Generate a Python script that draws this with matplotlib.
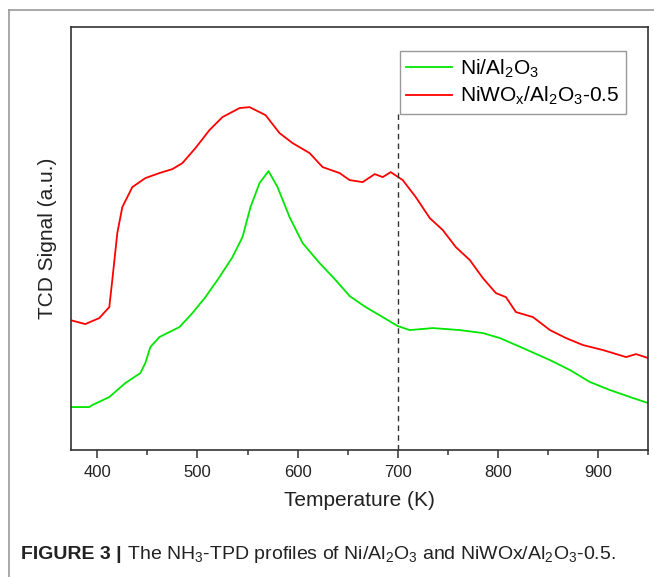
#!/usr/bin/env python3
"""NH3-TPD profiles of Ni/Al2O3 and NiWOx/Al2O3-0.5 (TCD signal vs temperature)."""
import matplotlib
matplotlib.use("Agg")
import matplotlib.pyplot as plt
from matplotlib.lines import Line2D
from matplotlib.ticker import MultipleLocator
from matplotlib import rcParams

rcParams["font.family"] = ["Liberation Sans", "DejaVu Sans"]
INK = "#222222"; SPINE = "#333333"; GREEN = "#00e600"; RED = "#ff0000"

# Ni/Al2O3 trace (temperature K, signal a.u.)
t_ni = [373, 392, 395, 412, 428, 443, 448, 453, 462, 482, 495, 508, 522, 535,
        545, 553, 562, 571, 580, 592, 605, 622, 638, 652, 668, 685, 700, 712,
        735, 762, 785, 802, 825, 852, 872, 892, 912, 935, 950]
s_ni = [43, 43, 45, 53, 67, 77, 87, 103, 113, 123, 137, 153, 173, 193,
        213, 243, 267, 279, 263, 233, 207, 187, 170, 154, 143, 133, 124, 120,
        122, 120, 117, 112, 102, 90, 80, 68, 60, 52, 47]

# NiWOx/Al2O3-0.5 trace
t_niw = [373, 388, 402, 412, 415, 420, 425, 435, 448, 462, 475, 485, 498, 512,
         525, 542, 552, 568, 582, 595, 612, 625, 642, 652, 665, 677, 685, 693,
         705, 718, 732, 745, 758, 772, 785, 798, 808, 818, 835, 852, 868, 885,
         905, 928, 938, 950]
s_niw = [130, 126, 132, 143, 170, 217, 243, 263, 272, 277, 281, 287, 302, 320,
         333, 342, 343, 335, 317, 307, 297, 283, 277, 270, 268, 276, 273, 278,
         270, 253, 232, 220, 203, 190, 172, 157, 153, 138, 133, 120, 112, 105,
         100, 93, 96, 92]

ref_T = 700      # dashed guide line
ref_top = 338

fig = plt.figure(figsize=(6.54, 5.77), dpi=100)
ax = fig.add_axes([0.108, 0.22, 0.883, 0.733])

ax.plot(t_ni, s_ni, color=GREEN, lw=1.3, label=r"Ni/Al$_\mathregular{2}$O$_\mathregular{3}$")
ax.plot(t_niw, s_niw, color=RED, lw=1.3,
        label=r"NiWO$_\mathregular{x}$/Al$_\mathregular{2}$O$_\mathregular{3}$-0.5")
ax.vlines(ref_T, 0, ref_top, colors="#333333", linestyles=(0, (4, 3)), lw=1.0)

ax.set_xlim(373.4, 950)
ax.set_ylim(0, 423)
ax.set_yticks([])
ax.xaxis.set_major_locator(MultipleLocator(100))
ax.xaxis.set_minor_locator(MultipleLocator(50))
ax.tick_params(axis="x", which="major", direction="out", length=5.5, width=1.1,
               color=SPINE, labelsize=12, labelcolor=INK, pad=5)
ax.tick_params(axis="x", which="minor", direction="out", length=3.5, width=1.1, color=SPINE)
for s in ax.spines.values():
    s.set_color(SPINE); s.set_linewidth(1.2)

ax.set_xlabel("Temperature (K)", fontsize=15, color=INK, labelpad=8)
ax.set_ylabel("TCD Signal (a.u.)", fontsize=15, color=INK, labelpad=10)

leg = ax.legend(loc="upper right", bbox_to_anchor=(0.961, 0.944), borderaxespad=0,
                fontsize=15, fancybox=False, edgecolor="#999999", framealpha=1,
                handlelength=2.2, handletextpad=0.4, borderpad=0.3, labelspacing=0.25)
leg.get_frame().set_linewidth(1.0)

# page frame lines
fig.add_artist(Line2D([9 / 654, 1], [1 - 10 / 577, 1 - 10 / 577], transform=fig.transFigure,
                      color="#999999", lw=1.2))
fig.add_artist(Line2D([9 / 654, 9 / 654], [0, 1 - 10 / 577], transform=fig.transFigure,
                      color="#999999", lw=1.2))

# caption
cap_y = 1 - 559 / 577
t1 = fig.text(21 / 654, cap_y, "FIGURE 3 |", fontsize=14, fontweight="bold",
              va="baseline", color=INK)
ax.annotate(r" The NH$_\mathregular{3}$-TPD profiles of Ni/Al$_\mathregular{2}$O$_\mathregular{3}$ "
            r"and NiWOx/Al$_\mathregular{2}$O$_\mathregular{3}$-0.5.",
            xy=(1, cap_y), xycoords=(t1, "figure fraction"), va="baseline", ha="left",
            fontsize=14, color=INK, annotation_clip=False)

fig.savefig("out.png", dpi=100)
